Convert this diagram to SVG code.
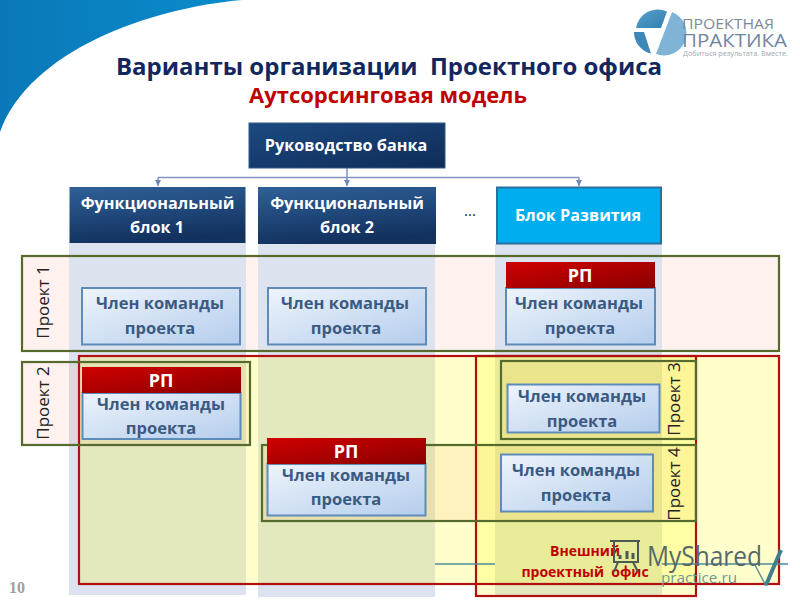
<svg xmlns="http://www.w3.org/2000/svg" width="800" height="600" viewBox="0 0 800 600">
<defs>
<linearGradient id="navy" x1="0" y1="0" x2="0.25" y2="1"><stop offset="0" stop-color="#2f6198"/><stop offset="1" stop-color="#12315f"/></linearGradient>
<linearGradient id="navy2" x1="0" y1="0" x2="1" y2="1"><stop offset="0" stop-color="#1c4a80"/><stop offset="1" stop-color="#0f2c58"/></linearGradient>
<linearGradient id="red" x1="0" y1="0" x2="1" y2="1"><stop offset="0" stop-color="#d00000"/><stop offset="1" stop-color="#8a0000"/></linearGradient>
<linearGradient id="mem" x1="0" y1="0" x2="1" y2="1"><stop offset="0" stop-color="#eef4fc"/><stop offset="1" stop-color="#b4cdec"/></linearGradient>
<linearGradient id="corner" x1="0" y1="0" x2="1" y2="0"><stop offset="0" stop-color="#0a78b8"/><stop offset="1" stop-color="#0a8ccc"/></linearGradient>
<linearGradient id="lg" x1="0" y1="0" x2="1" y2="1"><stop offset="0" stop-color="#5aa0cc"/><stop offset="1" stop-color="#2f7fb0"/></linearGradient>
<marker id="arr" markerWidth="7" markerHeight="6" refX="6" refY="3" orient="auto" markerUnits="userSpaceOnUse"><path d="M0 0L6 3L0 6Z" fill="#6f86b8"/></marker>
</defs>
<style>
text{font-family:"Open Sans","Noto Sans","Liberation Sans",sans-serif}
.h{fill:#fff;font-weight:700;font-size:16.2px;text-anchor:middle}
.m{fill:#3b5a82;font-weight:700;font-size:16.5px;text-anchor:middle}
.box{fill:url(#mem);stroke:#5f8bb8;stroke-width:2}
.rp{fill:url(#red)}
.rpt{fill:#fff;font-weight:700;font-size:18px;text-anchor:middle}
.col{fill:#dde3ee}
.prj{fill:#f06040;fill-opacity:.09;stroke:none}
.pl{fill:none;stroke:#566a2e;stroke-width:2.2}
.rl{fill:none;stroke:#b01010;stroke-width:2.2}
.yl{fill:#ffff00;fill-opacity:.2}
.pt{fill:#222;font-size:17px;text-anchor:middle}
.ex{fill:#c00000;font-weight:700;font-size:14px;text-anchor:middle}
.conn{fill:none;stroke:#7f93c0;stroke-width:1.5}
</style>
<rect width="800" height="600" fill="#fff"/>
<path d="M0 0H242C150 8 30 50 0 132Z" fill="url(#corner)"/>
<g id="title">
<text x="389" y="75" text-anchor="middle" fill="#12275e" font-weight="700" font-size="24px" xml:space="preserve">Варианты организации  Проектного офиса</text>
<text x="388" y="103" text-anchor="middle" fill="#c00000" font-weight="700" font-size="22px">Аутсорсинговая модель</text>
</g>
<g id="logo">
<path d="M636 28A22 22 0 0 1 667 11.500L661 28Z" fill="url(#lg)"/>
<path d="M634 32H644L651 53.500A22 22 0 0 1 634 32Z" fill="#3d88b8"/>
<path d="M672 12A22 22 0 0 1 656 54Z" fill="#7fb4d6"/>
<text x="682" y="29" fill="#7d8a96" font-size="15px" textLength="92" lengthAdjust="spacingAndGlyphs">ПРОЕКТНАЯ</text>
<text x="682" y="47" fill="#6f86a0" font-size="19px" textLength="105" lengthAdjust="spacingAndGlyphs">ПРАКТИКА</text>
<text x="683" y="56" fill="#a0a8b0" font-size="6.500px" textLength="105" lengthAdjust="spacingAndGlyphs">Добиться результата. Вместе.</text>
</g>
<g id="zone-p1"><rect class="prj" x="22" y="256" width="757" height="95"/></g>
<g id="columns">
<rect class="col" x="69" y="243" width="177" height="352"/>
<rect class="col" x="258" y="244" width="177" height="353"/>
<rect class="col" x="495" y="244" width="167" height="353"/>
</g>
<g id="zones">
<rect class="prj" x="22" y="362" width="57" height="83"/>
<rect class="prj" x="79" y="362" width="171" height="83"/>
<rect class="prj" x="501" y="361" width="195" height="78"/>
<rect class="prj" x="262" y="445" width="434" height="76"/>
<rect class="yl" x="79" y="356" width="700" height="228"/>
<rect class="yl" x="476" y="356" width="220" height="240"/>
</g>
<g id="connectors">
<path class="conn" d="M158 177.500H579"/>
<path class="conn" d="M158 177.500V186" marker-end="url(#arr)"/>
<path class="conn" d="M347 168V186" marker-end="url(#arr)"/>
<path class="conn" d="M579 177.500V186" marker-end="url(#arr)"/>
</g>
<g id="outlines">
<rect class="rl" x="79" y="356" width="700" height="228"/>
<rect class="rl" x="476" y="356" width="220" height="240"/>
<rect class="pl" x="22" y="256" width="757" height="95"/>
<rect class="pl" x="22" y="362" width="228" height="83"/>
<rect class="pl" x="501" y="361" width="195" height="78"/>
<rect class="pl" x="262" y="445" width="434" height="76"/>
</g>
<g id="node-head"><rect x="249" y="123" width="196" height="45" fill="url(#navy2)" stroke="#2f5a8c" stroke-width="1"/><text class="h" x="346" y="151">Руководство банка</text></g>
<g id="node-block1"><rect x="69.500" y="187" width="176" height="56" fill="url(#navy)"/><text class="h" x="157.500" y="209">Функциональный</text><text class="h" x="157" y="233">блок 1</text></g>
<g id="node-block2"><rect x="258" y="187" width="178" height="57" fill="url(#navy)"/><text class="h" x="347" y="209">Функциональный</text><text class="h" x="347" y="233">блок 2</text></g>
<text x="470" y="216" text-anchor="middle" fill="#222" font-size="15px">...</text>
<g id="node-dev"><rect x="497" y="187.500" width="164" height="56" fill="#00aeef" stroke="#2a6f9e" stroke-width="2"/><text class="h" x="578" y="221">Блок Развития</text></g>
<g id="node-m1"><rect class="box" x="82" y="288" width="158" height="56.500"/><text class="m" x="160" y="309">Член команды</text><text class="m" x="160" y="334">проекта</text></g>
<g id="node-m2"><rect class="box" x="268" y="288" width="158" height="56.500"/><text class="m" x="345" y="309">Член команды</text><text class="m" x="346" y="334">проекта</text></g>
<g id="node-m3"><rect class="box" x="506" y="288" width="149" height="56.500"/><text class="m" x="579" y="309">Член команды</text><text class="m" x="580" y="334">проекта</text></g>
<g id="node-rp3"><rect class="rp" x="506" y="262" width="149" height="26"/><text class="rpt" x="580" y="282">РП</text></g>
<g id="node-m4"><rect class="box" x="82.500" y="393" width="158" height="46"/><text class="m" x="161" y="410">Член команды</text><text class="m" x="161" y="434">проекта</text></g>
<g id="node-rp1"><rect class="rp" x="82" y="367" width="159" height="26"/><text class="rpt" x="161" y="387">РП</text></g>
<g id="node-m5"><rect class="box" x="267.500" y="464" width="158" height="51.500"/><text class="m" x="346" y="481">Член команды</text><text class="m" x="346" y="505">проекта</text></g>
<g id="node-rp2"><rect class="rp" x="267" y="438" width="159" height="26"/><text class="rpt" x="346" y="458">РП</text></g>
<g id="node-m6"><rect class="box" x="507.500" y="384.500" width="152" height="48"/><text class="m" x="582" y="402">Член команды</text><text class="m" x="582" y="427">проекта</text></g>
<g id="node-m7"><rect class="box" x="501" y="454.500" width="152" height="57"/><text class="m" x="576" y="476">Член команды</text><text class="m" x="576" y="501">проекта</text></g>
<g id="project-labels">
<text class="pt" transform="translate(49 302) rotate(-90)">Проект 1</text>
<text class="pt" transform="translate(49 403) rotate(-90)">Проект 2</text>
<text class="pt" transform="translate(680 399) rotate(-90)">Проект 3</text>
<text class="pt" transform="translate(680 484) rotate(-90)">Проект 4</text>
</g>
<g id="external">
<text class="ex" x="585" y="556">Внешний</text>
<text class="ex" x="585" y="577" xml:space="preserve">проектный  офис</text>
</g>
<g id="watermark">
<path d="M435 564H495M662 564H788" fill="none" stroke="#4f8a9a" stroke-width="1.500"/>
<path d="M610 541H640M614 541V562H638V541M618 562L614 572M633 562L638 572" fill="none" stroke="#4a5a50" stroke-width="2"/>
<path d="M620 559V555M627 559V551M633 559V553" fill="none" stroke="#4a5a50" stroke-width="3"/>
<text x="647" y="566" fill="#55686a" font-size="27px" textLength="115" lengthAdjust="spacingAndGlyphs" font-family="Liberation Sans">MyShared</text>
<text x="661" y="583" fill="#6a9a98" font-size="14px" textLength="76" lengthAdjust="spacingAndGlyphs">practice.ru</text>
<path d="M755 565L766 586" fill="none" stroke="#5f8f98" stroke-width="1.500"/>
<path d="M766 585L781 550" fill="none" stroke="#3f7f8a" stroke-width="4"/>
</g>
<text x="9" y="593" fill="#a0a0a0" font-weight="700" font-size="16px" style="font-family:'Liberation Serif',serif">10</text>
</svg>
